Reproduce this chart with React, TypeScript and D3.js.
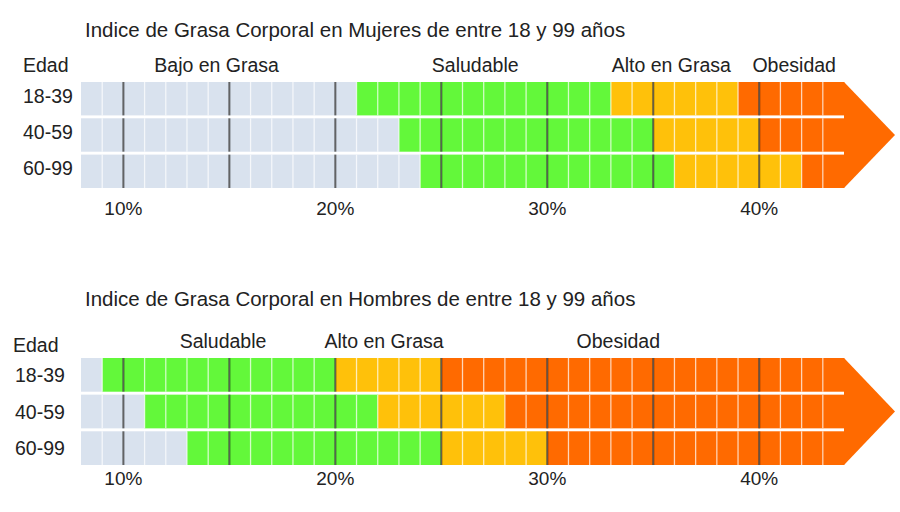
import React from "react";
import * as d3 from "d3";

// Datos
const ageGroups = ["18-39", "40-59", "60-99"];
const categories = ["Bajo en Grasa", "Saludable", "Alto en Grasa", "Obesidad"];
const tickValues = [10, 20, 30, 40];
const majorLines = [10, 15, 20, 25, 30, 35, 40];
const percentMin = 8;
const percentMax = 44;

// Mujeres: % donde empieza cada categoría
const womenHealthyFrom = [21, 23, 24];
const womenHighFrom = [33, 35, 36];
const womenObeseFrom = [39, 40, 42];
const womenLabelAt = [14.4, 26.6, 35.85, 41.65];

// Hombres
const menHealthyFrom = [9, 11, 13];
const menHighFrom = [20, 22, 25];
const menObeseFrom = [25, 28, 30];
const menLabelAt = [null, 14.7, 22.3, 33.35];

const COLORS = ["#d9e2ee", "#63f83a", "#ffc10a", "#ff6a00"];
const FONT = "'Liberation Sans', Arial, sans-serif";
const TEXT = "#222";

const WIDTH = 900;
const HEIGHT = 512;

const x = d3.scaleLinear().domain([percentMin, percentMax]).range([81, 844]);
const cells = d3.range(percentMin, percentMax);

interface PanelProps {
  title: string;
  healthy: number[];
  high: number[];
  obese: number[];
  labelAt: (number | null)[];
  titleY: number;
  headerY: number;
  edadX: number;
  edadY: number;
  rowLabelX: number;
  rowLabelDy: number;
  top: number;
  bottom: number;
  tickDy: number;
}

const Panel: React.FC<PanelProps> = (p) => {
  const y = d3.scaleBand<string>().domain(ageGroups).range([p.top, p.bottom]).paddingInner(0.08);
  const cat = (i: number, v: number) =>
    v < p.healthy[i] ? 0 : v < p.high[i] ? 1 : v < p.obese[i] ? 2 : 3;
  const mid = (p.top + p.bottom) / 2;
  const end = x(percentMax);

  return (
    <g>
      <text x={85} y={p.titleY} fontSize={20.5} fill={TEXT} fontFamily={FONT}>
        {p.title}
      </text>
      <text x={p.edadX} y={p.edadY} fontSize={19.5} fill={TEXT} fontFamily={FONT}>
        Edad
      </text>
      {categories.map((c, k) =>
        p.labelAt[k] == null ? null : (
          <text key={c} x={x(p.labelAt[k] as number)} y={p.headerY} fontSize={19.5}
            fill={TEXT} fontFamily={FONT} textAnchor="middle">
            {c}
          </text>
        )
      )}
      <path d={`M${end},${p.top}L${end + 51},${mid}L${end},${p.bottom}Z`} fill={COLORS[3]} />
      {ageGroups.map((g, i) => {
        const y0 = y(g) as number;
        const bw = y.bandwidth();
        return (
          <g key={g}>
            <text x={p.rowLabelX} y={y0 + bw / 2 + p.rowLabelDy} fontSize={19.5}
              fill={TEXT} fontFamily={FONT}>
              {g}
            </text>
            {cells.map((v) => (
              <rect key={v} x={x(v)} y={y0} width={x(v + 1) - x(v) + 0.3} height={bw}
                fill={COLORS[cat(i, v)]} />
            ))}
            {cells.slice(1).map((v) => (
              <line key={"w" + v} x1={x(v)} x2={x(v)} y1={y0} y2={y0 + bw}
                stroke="#fff" strokeOpacity={0.7} strokeWidth={1.3} />
            ))}
            {majorLines.map((v) => (
              <line key={"m" + v} x1={x(v)} x2={x(v)} y1={y0} y2={y0 + bw}
                stroke="#000" strokeOpacity={0.6} strokeWidth={2} />
            ))}
          </g>
        );
      })}
      {tickValues.map((t) => (
        <text key={t} x={x(t)} y={p.bottom + p.tickDy} fontSize={19} fill={TEXT}
          fontFamily={FONT} textAnchor="middle">
          {t}%
        </text>
      ))}
    </g>
  );
};

const App: React.FC = () => (
  <svg width={WIDTH} height={HEIGHT} style={{ position: "absolute", left: 0, top: 0, background: "#fff" }}>
    <Panel
      title="Indice de Grasa Corporal en Mujeres de entre 18 y 99 años"
      healthy={womenHealthyFrom}
      high={womenHighFrom}
      obese={womenObeseFrom}
      labelAt={womenLabelAt}
      titleY={37}
      headerY={72}
      edadX={23}
      edadY={72}
      rowLabelX={23}
      rowLabelDy={4}
      top={82}
      bottom={188}
      tickDy={27}
    />
    <Panel
      title="Indice de Grasa Corporal en Hombres de entre 18 y 99 años"
      healthy={menHealthyFrom}
      high={menHighFrom}
      obese={menObeseFrom}
      labelAt={menLabelAt}
      titleY={306}
      headerY={348}
      edadX={13}
      edadY={352}
      rowLabelX={15}
      rowLabelDy={7}
      top={358}
      bottom={465}
      tickDy={20}
    />
  </svg>
);

export default App;
